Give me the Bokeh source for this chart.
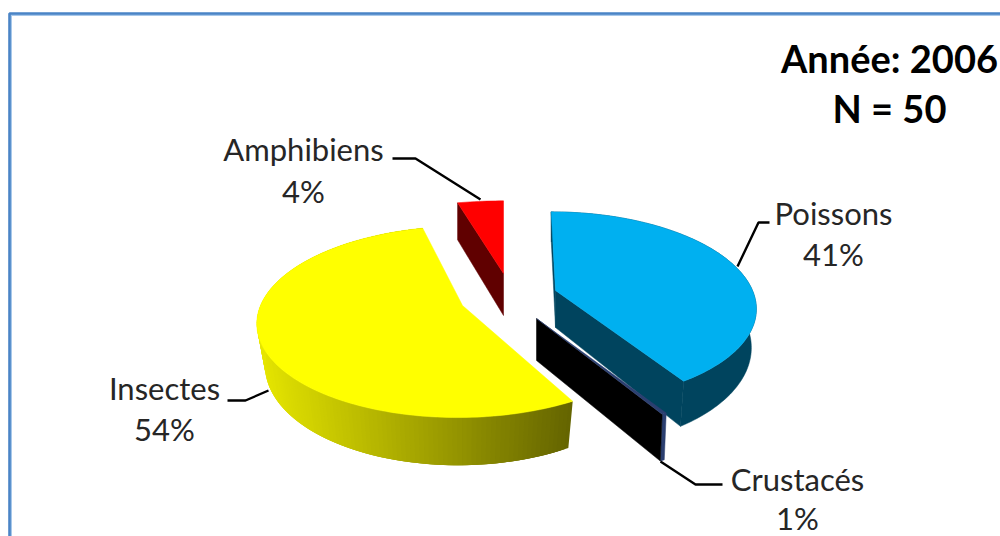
import numpy as np
from bokeh.plotting import figure
from bokeh.embed import file_html
from bokeh.resources import INLINE
from bokeh.core.properties import value

categories = ["Poissons", "Crustacés", "Insectes", "Amphibiens"]
shares = [41, 1, 54, 4]
title_lines = ["Année: 2006", "N = 50"]

FONT = "Lato"
p = figure(width=1000, height=536, x_range=(0, 1000), y_range=(536, 0),
           toolbar_location=None, output_backend="svg", min_border=0)
p.xaxis.visible = False
p.yaxis.visible = False
p.grid.visible = False
p.outline_line_color = None
p.background_fill_color = "#ffffff"

# pie geometry: each exploded slice has its own apex and perspective ellipse
K = 0.17
geom = {
    "Poissons":   dict(ax=555, ay=290, a=197, b=92, s=5, h=37, xs=.975, ys=1.09, vis=1.0),
    "Crustacés":  dict(ax=536, ay=318, a=222, b=93, s=0, h=42, xs=.985, ys=1.05, vis=0.3),
    "Insectes":   dict(ax=462, ay=305, a=202, b=93, s=-4, h=41, xs=.96, ys=1.06, vis=1.0),
    "Amphibiens": dict(ax=503, ay=273, a=215, b=85, s=0, h=42, xs=1.0, ys=1.07, vis=1.0),
}
style = {
    "Poissons":   dict(top="#00B0F0", side=("#00445E", "#00445E"), start="#00445E", end="#00445E"),
    "Crustacés":  dict(top="#2B3F70", side=("#2B3F70", "#2B3F70"), start=None, end="#000000"),
    "Insectes":   dict(top="#FFFF00", side=("#E6E600", "#646400"), start=None, end=None),
    "Amphibiens": dict(top="#FF0000", side=None, start="#600000", end=None),
}


def rim(g, t, bottom=False):
    u, v = np.sin(t), -np.cos(t)
    den = 1 - K * v
    x = (g["a"] * u + g["s"] * v) / den
    y = g["b"] * v / den
    if bottom:
        return g["ax"] + x * g["xs"], g["ay"] + g["h"] + y * g["ys"]
    return g["ax"] + x, g["ay"] + y


def lerp_color(c0, c1, f):
    a = [int(c0[i:i + 2], 16) for i in (1, 3, 5)]
    b = [int(c1[i:i + 2], 16) for i in (1, 3, 5)]
    return "#%02x%02x%02x" % tuple(int(round(a[i] + (b[i] - a[i]) * f)) for i in range(3))


cum = np.cumsum([0] + shares) / sum(shares) * 2 * np.pi
for i, name in enumerate(categories):
    g, st = geom[name], style[name]
    t1 = cum[i + 1]
    t0 = t1 - (t1 - cum[i]) * g["vis"]
    ts = np.linspace(t0, t1, max(4, int((t1 - t0) / 0.02)))
    tx, ty = rim(g, ts)
    bx, by = rim(g, ts, True)
    if st["side"]:
        if st["side"][0] == st["side"][1]:
            p.patch(list(tx) + list(bx[::-1]), list(ty) + list(by[::-1]),
                    fill_color=st["side"][0], line_color=st["side"][0], line_width=0.5)
        else:
            # outer wall, shaded along screen x; each quad overlaps the next to avoid seams
            xmin, xmax = bx.min(), bx.max()
            for j in range(len(ts) - 1):
                k = min(j + 3, len(ts) - 1)
                f = ((bx[j] + bx[j + 1]) / 2 - xmin) / max(1e-6, xmax - xmin)
                col = lerp_color(st["side"][0], st["side"][1], f)
                p.patch([tx[j], tx[k], bx[k], bx[j]], [ty[j], ty[k], by[k], by[j]],
                        fill_color=col, line_color=None)
    # cut faces
    for t, col in ((t0, st["start"]), (t1, st["end"])):
        if col:
            ex, ey = rim(g, t)
            fx, fy = rim(g, t, True)
            p.patch([g["ax"], ex, fx, g["ax"]], [g["ay"], ey, fy, g["ay"] + g["h"]],
                    fill_color=col, line_color=col, line_width=0.5)
    # top face
    p.patch([g["ax"]] + list(tx), [g["ay"]] + list(ty),
            fill_color=st["top"], line_color=st["top"], line_width=0.5)

# leader lines
leaders = {
    "Amphibiens": ([392, 415, 480], [158, 158, 199]),
    "Poissons":   ([769, 758, 737], [222, 222, 266]),
    "Insectes":   ([227, 245, 268], [400, 400, 390]),
    "Crustacés":  ([722, 695, 660], [484, 484, 461]),
}
for xs, ys in leaders.values():
    p.line(xs, ys, line_color="#000000", line_width=2.4)

# data labels
label_pos = {
    "Amphibiens": (303, 148, 190),
    "Poissons":   (833, 212, 253),
    "Insectes":   (164, 387, 428),
    "Crustacés":  (797, 478, 517),
}
for name, share in zip(categories, shares):
    x, y1, y2 = label_pos[name]
    p.text([x, x], [y1, y2], text=[name, f"{share}%"], text_font=value(FONT),
           text_font_size="31px", text_color="#262626",
           text_align="center", text_baseline="middle")

# heading
p.text([889, 889], [57, 107], text=title_lines, text_font=value(FONT), text_font_size="38px",
       text_font_style="bold", text_color="#000000", text_align="center", text_baseline="middle")

# frame: light inner band, darker outer band
p.line([10.5, 10.5, 1000], [536, 14.5, 14.5], line_color="#A8C8EA", line_width=2)
p.line([9, 9, 1000], [536, 13, 13], line_color="#4A84C6", line_width=2.6)

open("out.html", "w").write(file_html(p, INLINE))
